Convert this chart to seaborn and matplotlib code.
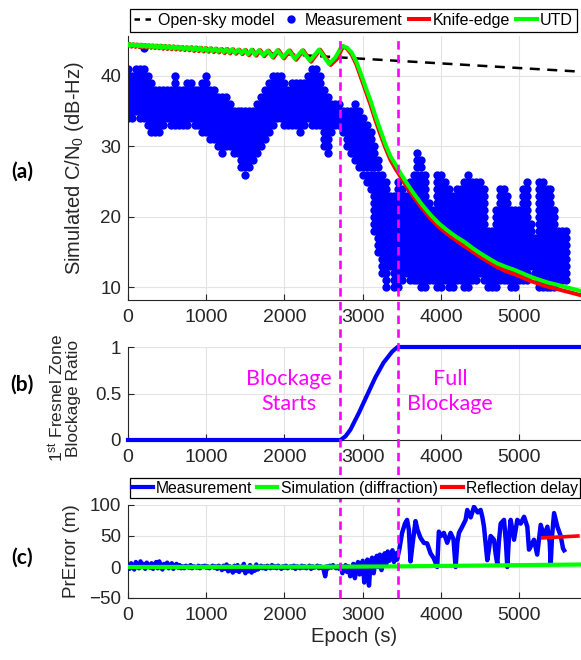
import numpy as np
import pandas as pd
import matplotlib
matplotlib.use("Agg")
import matplotlib.pyplot as plt
import matplotlib.transforms as mtransforms
from matplotlib.lines import Line2D
import seaborn as sns

# ---------------- data ----------------
# (a) measured C/N0: per-epoch column of integer dB-Hz levels (low, high)
meas_epoch = [0, 50, 100, 150, 200, 250, 300, 350, 400, 450, 500, 550, 600, 650, 700, 750,
              800, 850, 900, 950, 1000, 1050, 1100, 1150, 1200, 1250, 1300, 1350, 1400, 1450,
              1500, 1550, 1600, 1650, 1700, 1750, 1800, 1850, 1900, 1950, 2000, 2050, 2100,
              2150, 2200, 2250, 2300, 2350, 2400, 2450, 2500, 2550, 2600, 2650, 2700, 2750,
              2800, 2850, 2900, 2950, 3000, 3050, 3100, 3150, 3200, 3250, 3300, 3350, 3400,
              3450, 3500, 3550, 3600, 3650, 3700, 3750, 3800, 3850, 3900, 3950, 4000, 4050,
              4100, 4150, 4200, 4250, 4300, 4350, 4400, 4450, 4500, 4550, 4600, 4650, 4700,
              4750, 4800, 4850, 4900, 4950, 5000, 5050, 5100, 5150, 5200, 5250, 5300, 5350,
              5400, 5450, 5500, 5550, 5600]
meas_low = [34, 34, 35, 34, 34, 33, 32, 32, 32, 33, 34, 33, 33, 33, 33, 33,
            34, 33, 33, 32, 32, 31, 31, 30, 29, 30, 30, 29, 29, 27,
            26, 27, 28, 29, 30, 31, 32, 33, 34, 34, 33, 33, 33,
            33, 32, 33, 34, 33, 33, 33, 30, 29, 32, 33, 33, 32,
            30, 29, 28, 27, 26, 25, 24, 18, 15, 12, 10, 13, 10,
            10, 11, 12, 11, 11, 11, 10, 10, 11, 11, 10, 10, 11,
            10, 10, 11, 11, 10, 10, 11, 11, 12, 11, 10, 10, 10,
            11, 11, 11, 10, 10, 11, 11, 11, 13, 12, 10, 10, 10,
            10, 10, 11, 11, 11]
meas_high = [41, 40, 41, 41, 41, 40, 39, 38, 38, 38, 38, 38, 40, 38, 38, 39,
             39, 38, 38, 39, 40, 38, 38, 37, 37, 37, 36, 35, 35, 35,
             35, 35, 35, 36, 37, 38, 39, 40, 40, 40, 39, 38, 39,
             39, 39, 39, 40, 41, 41, 40, 38, 37, 36, 36, 36, 35,
             35, 35, 36, 35, 34, 33, 32, 30, 28, 26, 25, 23, 23,
             25, 24, 23, 25, 26, 29, 28, 26, 22, 21, 26, 26, 25,
             24, 23, 24, 24, 25, 26, 25, 25, 25, 24, 18, 18, 21,
             24, 24, 23, 21, 21, 21, 24, 25, 19, 17, 25, 25, 24,
             24, 21, 18, 18, 18]
meas_extra_epoch = [200]
meas_extra_val = [44]

# (a) open-sky model (straight line)
opensky_epoch = [0, 5780]
opensky_val = [44.4, 40.6]

# (a) UTD model
utd_epoch = [0, 5, 30, 55, 80, 105, 130, 155, 180, 205, 230, 255, 280, 305, 330, 356, 382,
             408, 434, 461, 488, 515, 542, 570, 598, 626, 654, 683, 712, 741, 770, 800, 830,
             860, 890, 921, 952, 984, 1016, 1049, 1082, 1116, 1150, 1185, 1220, 1256, 1292,
             1330, 1368, 1408, 1448, 1490, 1533, 1578, 1625, 1675, 1728, 1785, 1845, 1910,
             1980, 2055, 2135, 2225, 2325, 2440, 2570, 2650, 2735, 2800, 2860, 2920, 2980,
             3040, 3100, 3160, 3226, 3290, 3354, 3420, 3461, 3550, 3653, 3760, 3866, 3970,
             4080, 4190, 4293, 4400, 4507, 4610, 4720, 4830, 4934, 5040, 5147, 5250, 5360,
             5470, 5573, 5680, 5780]
utd_val = [44.40, 44.52, 44.26, 44.48, 44.23, 44.45, 44.19, 44.42, 44.16, 44.39, 44.13, 44.35,
           44.10, 44.32, 44.06, 44.29, 44.03, 44.28, 43.96, 44.25, 43.93, 44.21, 43.89, 44.18,
           43.86, 44.14, 43.82, 44.10, 43.78, 44.06, 43.74, 44.07, 43.65, 44.03, 43.62, 43.99,
           43.57, 43.95, 43.53, 43.91, 43.49, 43.87, 43.44, 43.82, 43.35, 43.82, 43.30, 43.78,
           43.25, 43.72, 43.20, 43.67, 43.04, 43.71, 42.98, 43.65, 42.91, 43.58, 42.69, 43.65,
           42.60, 43.60, 42.40, 43.62, 42.15, 43.72, 41.70, 42.60, 44.26, 44.00, 43.30, 42.00,
           40.20, 38.30, 36.50, 34.40, 32.30, 30.30, 28.60, 27.40, 26.60, 25.00, 23.30, 21.70,
           20.30, 19.10, 18.10, 17.20, 16.50, 15.60, 14.80, 14.10, 13.40, 12.90, 12.50, 12.00,
           11.50, 11.10, 10.70, 10.40, 10.10, 9.80, 9.50]

# (a) knife-edge model
ke_epoch = [0, 20, 45, 70, 95, 120, 145, 170, 195, 220, 245, 270, 295, 320, 345, 371, 397, 423,
            449, 476, 503, 530, 557, 585, 613, 641, 669, 698, 727, 756, 785, 815, 845, 875,
            905, 936, 967, 999, 1031, 1064, 1097, 1131, 1165, 1200, 1235, 1271, 1307, 1345,
            1383, 1423, 1463, 1505, 1548, 1593, 1640, 1690, 1743, 1800, 1860, 1925, 1995,
            2070, 2150, 2240, 2340, 2455, 2590, 2670, 2750, 2800, 2860, 2920, 2980, 3040,
            3100, 3160, 3226, 3290, 3354, 3420, 3461, 3550, 3653, 3760, 3866, 3970, 4080,
            4190, 4293, 4400, 4507, 4610, 4720, 4830, 4934, 5040, 5147, 5250, 5360, 5470,
            5573, 5680, 5780]
ke_val = [44.40, 44.52, 44.14, 44.48, 44.11, 44.45, 44.07, 44.42, 44.04, 44.39, 44.01, 44.35,
          43.98, 44.32, 43.94, 44.29, 43.91, 44.28, 43.84, 44.25, 43.81, 44.21, 43.77, 44.18,
          43.74, 44.14, 43.70, 44.10, 43.66, 44.06, 43.62, 44.07, 43.53, 44.03, 43.50, 43.99,
          43.45, 43.95, 43.41, 43.91, 43.37, 43.87, 43.32, 43.82, 43.23, 43.82, 43.18, 43.78,
          43.13, 43.72, 43.08, 43.67, 42.92, 43.71, 42.86, 43.65, 42.79, 43.58, 42.57, 43.65,
          42.48, 43.60, 42.28, 43.62, 42.00, 43.72, 41.55, 42.40, 44.20, 43.85, 43.00, 41.60,
          39.70, 37.80, 35.90, 33.80, 31.70, 29.80, 28.10, 26.80, 26.10, 24.50, 22.80, 21.20,
          19.80, 18.60, 17.60, 16.70, 15.90, 15.10, 14.30, 13.60, 12.90, 12.30, 11.90, 11.40,
          10.90, 10.50, 10.10, 9.80, 9.50, 9.20, 8.90]

# (b) first Fresnel zone blockage ratio
block_epoch = [0, 2715, 2780, 2842, 2950, 3055, 3160, 3265, 3376, 3445, 5780]
block_val = [0, 0, 0.04, 0.11, 0.29, 0.48, 0.67, 0.83, 0.95, 1.0, 1.0]

# (c) pseudorange error: 20 s samples up to 3440 s, then irregular samples
pr_epoch_regular = np.arange(0, 3441, 20)
pr_val_regular = [2, -3, 6, 1, -4, 8, 3, -2, 9, 0, 5, -3, 7, 2, -1, 6, -3, 4, 8, -2, 9, 1, -4,
                  5, 0, 7, -2, 3, 6, -3, 2, 5, -1, 3, -2,
                  1, -2, 2, 0, -1, 3, -2, 1, 0, -1, 2, -2, 1, 0, 2, -1, 1, -2, 0, 2, -1, 1,
                  -3, 2, 0,
                  -5, 2, -3, 4, -7, 1, -4, -9, 2, -6, 3, -8, 0, -5, 5, -10, -2, -7, 3, -9,
                  -1, -6, 4, -4, -1,
                  2, -2, 1, -3, 2, 0, -2, 3, -1, 1, -2, 2, 0, -3, 1, -1, 2, -2, 0, 1, -1, 2,
                  -3, 1, 0, -2, 2, -1, 1, -2, 0, 2, -3, 1, -1, 0, 2, -2, 1, -1, -4, -15, 1,
                  -2, 2, -1, 3, 0, -2, 1,
                  -3, 2, -10, -2, 3, -8, 1, -15, -5, 5, -18, 0, 8, -12, -3, 10, -25, -8, 12,
                  -30, 5, 15, -10, 8, 18, 0, 20, -5, 12, 22, 5, 25, 10, 18, 27, 8, 22, 12]
pr_epoch_late = [3470, 3503, 3540, 3567, 3590, 3611, 3640, 3675, 3700, 3739, 3781, 3824, 3867,
                 3909, 3952, 3973, 4000, 4037, 4080, 4123, 4160, 4187, 4210, 4230, 4272, 4315,
                 4336, 4380, 4422, 4470, 4507, 4530, 4550, 4592, 4615, 4635, 4678, 4700, 4720,
                 4740, 4763, 4806, 4830, 4848, 4870, 4891, 4934, 4976, 5019, 5062, 5104, 5125,
                 5147, 5189, 5230, 5275, 5318, 5360, 5390, 5403, 5420, 5446, 5488, 5531, 5560,
                 5574]
pr_val_late = [30, 55, 70, 76, 60, 9, 40, 74, 60, 47, 39, 38, 22,
               14, 0, 57, 50, 55, 39, 55, 45, 0, 40, 55, 65, 76,
               92, 80, 97, 88, 92, 80, 65, 11, 30, 50, 44, 20, 5,
               40, 70, 76, 40, 0, 50, 76, 44, 76, 70, 81, 65, 28,
               33, 44, 20, 68, 50, 65, 40, 5, 50, 87, 65, 50, 30,
               27]
sim_epoch = [0, 2700, 3450, 5780]
sim_val = [0, 0.5, 1.0, 4.0]
refl_epoch = [5300, 5750]
refl_val = [47, 50]

# blockage boundaries
block_start = 2715
block_full = 3445

# ---------------- style ----------------
plt.rcParams["font.family"] = ["Liberation Sans", "DejaVu Sans"]
plt.rcParams["mathtext.fontset"] = "custom"
plt.rcParams["mathtext.rm"] = "Liberation Sans"
plt.rcParams["mathtext.it"] = "Liberation Sans:italic"
axc = "#262626"
plt.rcParams.update({
    "axes.edgecolor": axc, "xtick.color": axc, "ytick.color": axc,
    "axes.labelcolor": axc, "xtick.direction": "in", "ytick.direction": "in",
    "xtick.major.size": 4, "ytick.major.size": 4,
    "xtick.major.width": 0.8, "ytick.major.width": 0.8,
})

BLUE, RED, GREEN, MAG = "#0000ff", "#ff0000", "#00ff00", "#ff00ff"
W, H = 581, 660
fig = plt.figure(figsize=(W / 100, H / 100), dpi=100)


def box(top, bottom, left=128, right=581):
    return [left / W, 1 - bottom / H, (right - left) / W, (bottom - top) / H]


ax_a = fig.add_axes(box(35.7, 300))
ax_b = fig.add_axes(box(347, 440))
ax_c = fig.add_axes(box(505, 598))

# ---------------- (a) ----------------
rows = []
for e, lo, hi in zip(meas_epoch, meas_low, meas_high):
    for v in range(lo, hi + 1):
        rows.append((e, v))
rows += list(zip(meas_extra_epoch, meas_extra_val))
meas = pd.DataFrame(rows, columns=["epoch", "cn0"])

sns.scatterplot(data=meas, x="epoch", y="cn0", ax=ax_a, color=BLUE, s=36,
                linewidth=0, zorder=2)
sns.lineplot(x=opensky_epoch, y=opensky_val, ax=ax_a, color="black", lw=1.8,
             linestyle=(0, (4, 3)), zorder=3)
sns.lineplot(x=ke_epoch, y=ke_val, ax=ax_a, color=RED, lw=2.9, sort=False,
             estimator=None, zorder=4)
sns.lineplot(x=utd_epoch, y=utd_val, ax=ax_a, color=GREEN, lw=2.9, sort=False,
             estimator=None, zorder=5)
ax_a.set_ylim(8.2, 45.7)
ax_a.set_yticks([10, 20, 30, 40])
ax_a.set_xlabel("")
ax_a.set_ylabel("Simulated C/N$_{\\mathrm{0}}$ (dB-Hz)", fontsize=14.5, va="center")
ax_a.yaxis.set_label_coords(-0.117, 0.5)

# ---------------- (b) ----------------
sns.lineplot(x=block_epoch, y=block_val, ax=ax_b, color=BLUE, lw=3, sort=False,
             estimator=None, clip_on=False, zorder=4)
ax_b.set_ylim(0, 1)
ax_b.set_yticks([0, 0.5, 1])
ax_b.set_yticklabels(["0", "0.5", "1"])
ax_b.set_xlabel("")
ax_b.set_ylabel("1$^{\\mathrm{st}}$ Fresnel Zone\nBlockage Ratio", fontsize=12.5,
                va="center", linespacing=1.0)
ax_b.yaxis.set_label_coords(-0.141, 0.45)
ax_b.text(2060, 0.52, "Blockage\nStarts", color=MAG, fontsize=15.5, family="Lato",
          ha="center", va="center", linespacing=1.35)
ax_b.text(4115, 0.52, "Full\nBlockage", color=MAG, fontsize=15.5, family="Lato",
          ha="center", va="center", linespacing=1.35)

# ---------------- (c) ----------------
pr_epoch = list(pr_epoch_regular) + pr_epoch_late
pr_val = pr_val_regular + pr_val_late
sns.lineplot(x=pr_epoch, y=pr_val, ax=ax_c, color=BLUE, lw=3.2, sort=False,
             estimator=None, zorder=3)
sns.lineplot(x=sim_epoch, y=sim_val, ax=ax_c, color=GREEN, lw=3, sort=False,
             estimator=None, zorder=4)
sns.lineplot(x=refl_epoch, y=refl_val, ax=ax_c, color=RED, lw=2.6, sort=False,
             estimator=None, zorder=4)
ax_c.set_ylim(-50, 100)
ax_c.set_yticks([-50, 0, 50, 100])
ax_c.set_ylabel("PrError (m)", fontsize=13.5, va="center")
ax_c.yaxis.set_label_coords(-0.124, 0.5)
ax_c.set_xlabel("Epoch (s)", fontsize=14.5, labelpad=2)

for ax in (ax_a, ax_b, ax_c):
    ax.set_xlim(0, 5790)
    ax.set_xticks([0, 1000, 2000, 3000, 4000, 5000])
    ax.tick_params(axis="x", labelsize=14, pad=6.5)
    ax.tick_params(axis="y", labelsize=13.5, pad=5)
    ax.grid(True, color="#e3e3e3", lw=0.8)
    ax.set_axisbelow(True)
    for side in ("top", "right"):
        ax.spines[side].set_visible(False)
    for side in ("left", "bottom"):
        ax.spines[side].set_linewidth(0.8)
    if ax.get_legend() is not None:
        ax.get_legend().remove()

# panel letters
for letter, ypix in (("(a)", 172), ("(b)", 385), ("(c)", 558)):
    fig.text(22 / W, 1 - ypix / H, letter, fontsize=15, fontweight="bold",
             family="Lato", ha="center", va="center", color="black")

# blockage boundary lines running through all panels
trans = mtransforms.blended_transform_factory(ax_c.transData, fig.transFigure)
for xb in (block_start, block_full):
    fig.add_artist(Line2D([xb, xb], [1 - 598 / H, 1 - 35.7 / H], transform=trans,
                          color=MAG, lw=1.9, linestyle=(0, (3.2, 2.0)), zorder=3))

# legends
leg_a_handles = [
    Line2D([], [], color="black", lw=1.8, linestyle=(0, (2.2, 2.2))),
    Line2D([], [], color=BLUE, marker="o", markersize=5, linestyle="none"),
    Line2D([], [], color=RED, lw=2.9),
    Line2D([], [], color=GREEN, lw=2.9),
]
leg_a = fig.legend(leg_a_handles, ["Open-sky model", "Measurement", "Knife-edge", "UTD"],
                   loc="lower left", bbox_to_anchor=(130 / W, 1 - 32 / H, 447 / W, 26 / H),
                   mode="expand", ncol=4, fontsize=11.5, frameon=True, fancybox=False,
                   edgecolor="black", framealpha=1, handlelength=1.3, handletextpad=0.2,
                   columnspacing=0.3, borderpad=0.25, borderaxespad=0)
leg_a.get_frame().set_linewidth(0.9)
leg_a.set_zorder(6)

leg_c_handles = [Line2D([], [], color=BLUE, lw=3), Line2D([], [], color=GREEN, lw=3),
                 Line2D([], [], color=RED, lw=3)]
leg_c = fig.legend(leg_c_handles, ["Measurement", "Simulation (diffraction)", "Reflection delay"],
                   loc="lower left", bbox_to_anchor=(130 / W, 1 - 498 / H, 450 / W, 21 / H),
                   mode="expand", ncol=3, fontsize=11.3, frameon=True, fancybox=False,
                   edgecolor="black", framealpha=1, handlelength=1.3, handletextpad=0.2,
                   columnspacing=0.3, borderpad=0.15, borderaxespad=0)
leg_c.get_frame().set_linewidth(0.9)
leg_c.set_zorder(6)

fig.savefig("out.png", dpi=100)
